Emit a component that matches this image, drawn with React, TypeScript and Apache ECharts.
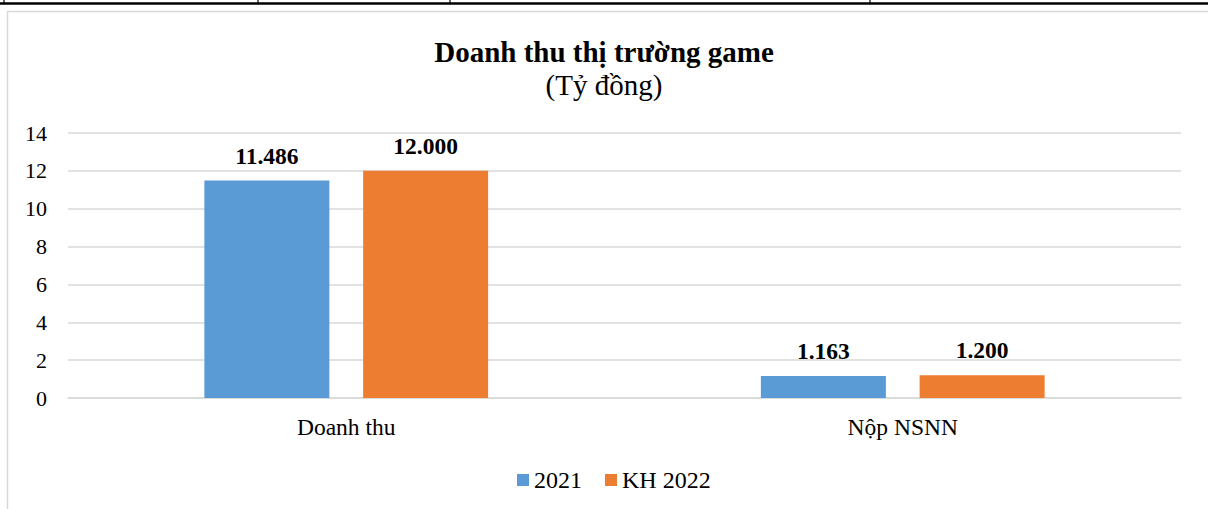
import React, { useEffect, useRef } from "react";
import * as echarts from "echarts";

const categories = ["Doanh thu", "Nộp NSNN"];
const series2021 = [11.486, 1.163];
const seriesKH2022 = [12.0, 1.2];
const seriesNames = ["2021", "KH 2022"];
const yTicks = { min: 0, max: 14, interval: 2 };

const FONT = "Liberation Serif";

export default function App() {
  const ref = useRef<HTMLDivElement>(null);
  useEffect(() => {
    if (!ref.current) return;
    const chart = echarts.init(ref.current, null, { renderer: "svg" });
    const labelCfg = {
      show: true,
      position: "top",
      distance: 13,
      fontFamily: FONT,
      fontSize: 23.5,
      fontWeight: "bold",
      color: "#000",
      formatter: (p: any) => Number(p.value).toFixed(3),
    };
    chart.setOption({
      animation: false,
      backgroundColor: "#fff",
      textStyle: { fontFamily: FONT },
      title: {
        text: "Doanh thu thị trường game",
        subtext: "(Tỷ đồng)",
        left: "center",
        top: 32,
        itemGap: 4,
        textStyle: { fontFamily: FONT, fontSize: 29, fontWeight: "bold", color: "#000" },
        subtextStyle: { fontFamily: FONT, fontSize: 29, color: "#000" },
      },
      grid: { left: 68, right: 27, top: 133, bottom: 111, containLabel: false },
      xAxis: {
        type: "category",
        data: categories,
        axisLine: { show: true, lineStyle: { color: "#d9d9d9", width: 1.5 } },
        axisTick: { show: false },
        axisLabel: { fontFamily: FONT, fontSize: 23.5, color: "#000", margin: 17 },
      },
      yAxis: {
        type: "value",
        min: yTicks.min,
        max: yTicks.max,
        interval: yTicks.interval,
        axisLine: { show: false },
        axisTick: { show: false },
        axisLabel: { fontFamily: FONT, fontSize: 22, color: "#000", margin: 21 },
        splitLine: { lineStyle: { color: "#d9d9d9", width: 1.5 } },
      },
      legend: {
        top: 463,
        left: 512,
        itemWidth: 12,
        itemHeight: 12,
        itemGap: 23,
        icon: "rect",
        textStyle: { fontFamily: FONT, fontSize: 24, color: "#000" },
        data: seriesNames,
      },
      series: [
        {
          name: seriesNames[0],
          type: "bar",
          data: series2021,
          barWidth: 125,
          barGap: "27%",
          itemStyle: { color: "#5B9BD5" },
          label: labelCfg,
        },
        {
          name: seriesNames[1],
          type: "bar",
          data: seriesKH2022,
          barWidth: 125,
          itemStyle: { color: "#ED7D31" },
          label: labelCfg,
        },
      ],
      graphic: [
        {
          type: "rect",
          silent: true,
          shape: { x: 7.5, y: 11.5, width: 1220, height: 520 },
          style: { fill: "none", stroke: "#d9d9d9", lineWidth: 1.5 },
        },
        {
          type: "line",
          silent: true,
          shape: { x1: 0, y1: 3.5, x2: 1208, y2: 3.5 },
          style: { stroke: "#000", lineWidth: 2.5 },
        },
        ...[4, 258, 450, 870].map((x) => ({
          type: "line",
          silent: true,
          shape: { x1: x, y1: 0, x2: x, y2: 4 },
          style: { stroke: "#000", lineWidth: 1.2 },
        })),
      ],
    });
    return () => chart.dispose();
  }, []);
  return (
    <div
      ref={ref}
      style={{ position: "absolute", left: 0, top: 0, width: 1208, height: 509 }}
    />
  );
}
